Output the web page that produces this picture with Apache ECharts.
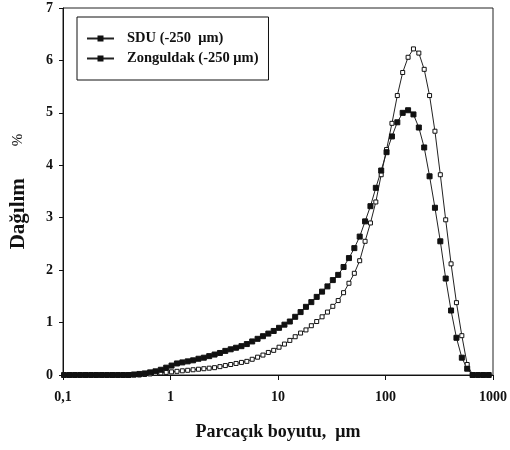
<!DOCTYPE html>
<html>
<head>
<meta charset="utf-8">
<script src="https://cdn.jsdelivr.net/npm/echarts@6/dist/echarts.min.js"></script>
<style>
  html, body { margin: 0; padding: 0; background: #fff; }
  #chart { width: 510px; height: 450px; }
</style>
</head>
<body>
<div id="chart"></div>
<script>
// particle size bins (µm), 20 per decade
var sizes = [
  0.1023, 0.1148, 0.1288, 0.1445, 0.1622, 0.1820, 0.2042, 0.2291, 0.2570, 0.2884,
  0.3236, 0.3631, 0.4074, 0.4571, 0.5129, 0.5754, 0.6457, 0.7244, 0.8128, 0.9120,
  1.023, 1.148, 1.288, 1.445, 1.622, 1.820, 2.042, 2.291, 2.570, 2.884,
  3.236, 3.631, 4.074, 4.571, 5.129, 5.754, 6.457, 7.244, 8.128, 9.120,
  10.23, 11.48, 12.88, 14.45, 16.22, 18.20, 20.42, 22.91, 25.70, 28.84,
  32.36, 36.31, 40.74, 45.71, 51.29, 57.54, 64.57, 72.44, 81.28, 91.20,
  102.3, 114.8, 128.8, 144.5, 162.2, 182.0, 204.2, 229.1, 257.0, 288.4,
  323.6, 363.1, 407.4, 457.1, 512.9, 575.4, 645.7, 724.4, 812.8, 912.0
];

var sdu = [
  0, 0, 0, 0, 0, 0, 0, 0, 0, 0,
  0, 0, 0, 0, 0, 0.01, 0.02, 0.03, 0.04, 0.05,
  0.06, 0.07, 0.08, 0.09, 0.10, 0.11, 0.12, 0.13, 0.14, 0.16,
  0.18, 0.20, 0.22, 0.24, 0.26, 0.30, 0.34, 0.38, 0.43, 0.47,
  0.53, 0.59, 0.66, 0.73, 0.80, 0.86, 0.94, 1.02, 1.11, 1.20,
  1.31, 1.42, 1.57, 1.75, 1.94, 2.18, 2.55, 2.90, 3.30, 3.82,
  4.30, 4.80, 5.33, 5.77, 6.06, 6.22, 6.14, 5.83, 5.33, 4.65,
  3.82, 2.96, 2.12, 1.38, 0.75, 0.20, 0, 0, 0, 0
];

var zonguldak = [
  0, 0, 0, 0, 0, 0, 0, 0, 0, 0,
  0, 0, 0, 0.01, 0.02, 0.03, 0.05, 0.07, 0.10, 0.14,
  0.18, 0.22, 0.24, 0.26, 0.28, 0.31, 0.33, 0.36, 0.39, 0.42,
  0.46, 0.49, 0.52, 0.55, 0.59, 0.64, 0.69, 0.74, 0.79, 0.84,
  0.90, 0.96, 1.02, 1.11, 1.20, 1.30, 1.39, 1.49, 1.59, 1.69,
  1.81, 1.91, 2.06, 2.23, 2.42, 2.64, 2.93, 3.22, 3.57, 3.90,
  4.25, 4.55, 4.82, 5.00, 5.05, 4.97, 4.72, 4.34, 3.79, 3.19,
  2.55, 1.84, 1.23, 0.71, 0.33, 0.12, 0, 0, 0, 0
];

var seriesNames = ['SDU (-250  μm)', 'Zonguldak (-250 μm)'];
var xTicks = [0.1, 1, 10, 100, 1000];

var font = '"Liberation Serif", "DejaVu Serif", serif';
var chart = echarts.init(document.getElementById('chart'));

function pairs(ys) {
  return sizes.map(function (x, i) { return [x, ys[i]]; });
}

var option = {
  animation: false,
  backgroundColor: '#fff',
  grid: {
    left: 60, right: 12, top: 8, bottom: 75,
    show: true, borderColor: '#222', borderWidth: 1
  },
  legend: {
    orient: 'vertical',
    left: 77, top: 17,
    padding: [14, 10, 14, 9],
    itemGap: 5,
    itemWidth: 27, itemHeight: 5,
    borderColor: '#111', borderWidth: 1,
    textStyle: { fontFamily: font, fontWeight: 'bold', fontSize: 14.5, color: '#111', padding: [0, 0, 0, 8] },
    data: [
      { name: seriesNames[0], itemStyle: { color: '#111', borderColor: '#111' } },
      { name: seriesNames[1], itemStyle: { color: '#111' } }
    ]
  },
  xAxis: {
    type: 'log', logBase: 10, min: 0.1, max: 1000,
    name: 'Parcaçık boyutu,  μm',
    nameLocation: 'middle', nameGap: 48,
    nameTextStyle: { fontFamily: font, fontWeight: 'bold', fontSize: 18, color: '#111' },
    axisLine: { lineStyle: { color: '#111', width: 1 } },
    axisTick: { show: true, length: 5, lineStyle: { color: '#111' } },
    minorTick: { show: false },
    splitLine: { show: false },
    axisLabel: {
      fontFamily: font, fontWeight: 'bold', fontSize: 14, color: '#111', margin: 15,
      formatter: function (v) {
        var t = xTicks.find(function (k) { return Math.abs(k - v) / k < 1e-6; });
        return t === undefined ? '' : String(t).replace('.', ',');
      }
    }
  },
  yAxis: {
    type: 'value', min: 0, max: 7, interval: 1,
    name: '{a|Dağılım}{b|%}',
    nameLocation: 'middle', nameGap: 34, nameRotate: 90,
    nameTextStyle: {
      rich: {
        a: { fontFamily: font, fontWeight: 'bold', fontSize: 21, color: '#111' },
        b: { fontFamily: font, fontSize: 15, color: '#111', padding: [0, 0, 0, 32] }
      }
    },
    axisLine: { show: true, lineStyle: { color: '#111', width: 1 } },
    axisTick: { show: true, length: 4, lineStyle: { color: '#111' } },
    splitLine: { show: false },
    axisLabel: { fontFamily: font, fontWeight: 'bold', fontSize: 14, color: '#111', margin: 10 }
  },
  series: [
    {
      name: seriesNames[0],
      type: 'line',
      data: pairs(sdu),
      symbol: 'rect', symbolSize: 4,
      showAllSymbol: true,
      lineStyle: { color: '#222', width: 1 },
      itemStyle: { color: '#fff', borderColor: '#111', borderWidth: 1 }
    },
    {
      name: seriesNames[1],
      type: 'line',
      data: pairs(zonguldak),
      symbol: 'rect', symbolSize: 5,
      showAllSymbol: true,
      lineStyle: { color: '#222', width: 1 },
      itemStyle: { color: '#111', borderColor: '#111', borderWidth: 1 }
    }
  ]
};

chart.setOption(option);
</script>
</body>
</html>
